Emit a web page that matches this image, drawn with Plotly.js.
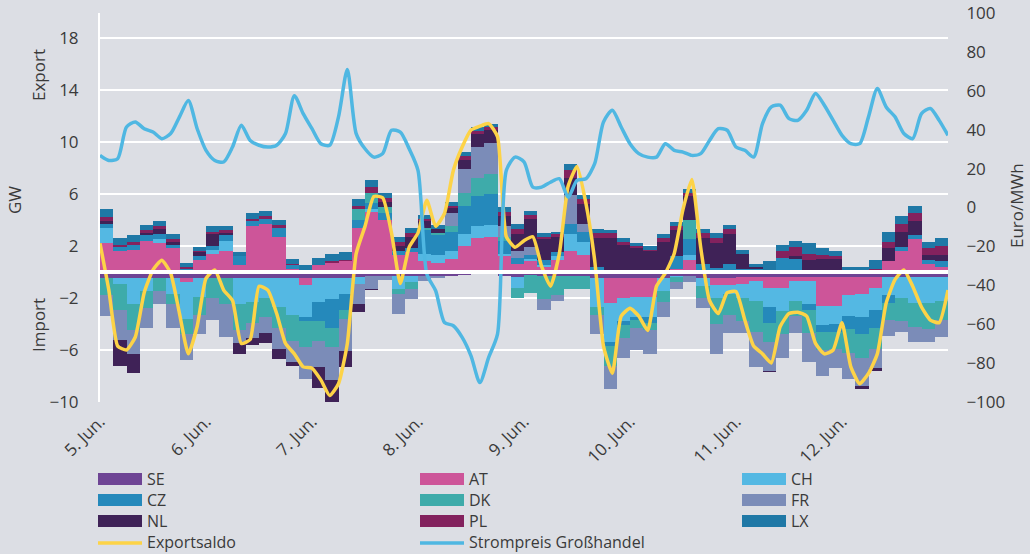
<!DOCTYPE html>
<html><head><meta charset="utf-8">
<script src="https://cdn.plot.ly/plotly-3.0.1.min.js"></script>
<style>html,body{margin:0;padding:0;background:#dcdee4;}#chart{width:1030px;height:554px;}</style>
</head><body><div id="chart"></div>
<script>
// ---- data (3-hourly balances in GW, positive = export, negative = import) ----
const countries = ['SE','AT','CH','CZ','DK','FR','NL','PL','LX'];
const SE = [-0.5,-0.5,-0.5,-0.5,-0.5,-0.5,-0.5,-0.5, -0.5,-0.5,-0.5,-0.5,-0.5,-0.5,-0.5,-0.5,
            -0.5,-0.5,-0.5,-0.4,-0.3,-0.3,-0.3,-0.3, -0.3,-0.3,-0.3,-0.2,-0.1,-0.1,-0.3,-0.4,
            -0.2,-0.3,-0.3,-0.3,-0.3,-0.5,-0.5,-0.5, -0.5,-0.5,-0.5,-0.3,-0.3,-0.5,-0.5,-0.5,
            -0.4,-0.4,-0.4,-0.4,-0.4,-0.4,-0.4,-0.4, -0.4,-0.4,-0.4,-0.4,-0.4,-0.4,-0.4,-0.4];
const AT = [2.2,1.6,1.7,2.4,2.2,1.8,-0.3,0.9, 1.4,1.6,0.5,3.5,3.7,2.7,0.2,-0.5,
            0.5,0.7,0.8,3.4,4.6,4.0,1.3,1.5, 0.8,0.7,1.0,2.0,2.6,2.7,1.2,0.6,
            0.8,0.4,0.9,1.6,1.3,0.1,-1.9,-1.5, -1.4,-1.4,0,0.2,0.9,0,-0.5,-0.5,
            -0.5,-0.3,-0.8,-0.8,-0.3,-0.3,-2.2,-2.2, -1.4,-1.3,-0.8,0.8,1.6,2.5,0.6,0.4];
const CH = [1.2,-0.4,-2.0,-1.0,0.3,-1.2,-2.8,-1.4, 0.3,0.8,-2.0,-1.8,-1.5,-2.2,-2.8,-2.5,
            -1.8,-1.6,-1.2,-0.5,0.2,0,-1.0,-0.5, 0.6,0.6,0.6,0.9,0.9,0.9,0.2,-0.8,
            0.2,0.1,0.3,1.3,1.0,-2.2,-3.0,-1.8, -1.6,-1.6,-1.0,-0.1,0.4,-0.6,-1.0,-0.7,
            -1.1,-1.5,-1.5,-1.8,-1.5,-1.8,-1.5,-1.4, -1.6,-1.8,-1.7,-1.4,-1.6,-2.0,-2.0,-1.8];
const CZ = [0.3,0.3,0.4,0.4,0.4,0.3,0.2,0.3, 0.3,0.4,0.7,0.4,0.4,0.7,0.3,-0.3,
            -1.5,-2.2,-1.2,0.6,0.5,0.5,0.3,0.3, 1.8,1.5,1.5,2.2,2.3,2.4,1.0,0.5,
            0.3,0.4,0.3,0.8,0.8,0.3,-0.3,-0.3, -0.2,-0.4,0.1,1.0,1.2,0.6,0.3,0.6,
            0.2,0.2,-1.2,1.1,1.0,-0.4,-0.5,-0.6, -1.0,-1.3,-1.4,-0.6,0.3,0.3,0.3,0.4];
const DK = [-1.3,-2.0,-2.0,-1.3,-1.0,-0.8,-1.2,-1.4, -1.5,-2.0,-2.0,-1.6,-1.5,-1.6,-2.0,-2.0,
            -1.5,-1.5,-0.7,0.8,0.8,0.5,-0.4,-0.5, 0.2,0.2,0.4,1.0,1.4,1.5,0.3,-0.8,
            -1.4,-1.8,-1.5,-1.0,-1.0,-0.6,-1.5,-1.0, -0.6,-0.6,-0.8,-0.4,1.5,-0.9,-2.0,-1.6,
            -1.8,-2.4,-1.5,-1.8,-1.2,-1.8,-1.4,-1.3, -1.8,-1.8,-1.6,-1.3,-1.8,-1.8,-2.0,-1.5];
const FR = [-1.6,-2.3,-1.8,-1.5,-1.0,-1.8,-2.0,-1.5, -1.7,-2.5,-1.0,-1.2,-1.2,-1.6,-1.6,-2.4,
            -2.0,-2.5,-2.5,-1.6,-1.0,-0.3,-1.5,-0.8, -0.4,-0.2,1.0,1.8,2.4,2.4,0.8,0.5,
            0.6,-0.8,-0.4,2.2,0.6,-1.5,-1.8,-1.5, -1.7,-1.8,-1.2,-0.5,-0.5,-0.8,-2.3,-1.4,
            -0.9,-2.7,-2.2,-1.8,-1.3,-2.2,-2.0,-1.5, -2.0,-2.2,-1.5,-1.2,-0.8,-1.2,-1.0,-1.3];
const NL = [0.2,-2.0,-1.5,0.2,0.4,0.2,0,0.3, 0.9,0.2,-0.8,-0.5,-0.8,-0.8,-0.3,0,
            -1.6,-1.8,-1.2,-0.6,-0.1,0.4,0.4,0.9, 0.5,0.3,0.4,0.7,1.0,1.0,0.8,1.3,
            2.2,1.6,1.2,1.3,1.5,2.2,2.6,2.1, 1.8,1.6,2.2,2.0,1.8,2.0,1.9,2.3,
            1.2,0.2,-0.1,0,0.2,0.9,1.0,1.0, 0,-0.2,-0.2,1.0,1.2,1.1,0.4,0.5];
const PL = [0.3,0.2,0.2,0.2,0.2,0.2,0.2,0.1, 0.2,0.2,0,0.2,0.2,0.2,0.1,0,
            0,0.1,0.1,0.3,0.4,0.3,0.3,0.3, 0.2,0,0.2,0.3,0.2,0.2,0.3,0.4,
            0.3,0.2,0.2,0.6,0.4,0.4,0.4,0.2, 0.2,0.1,0.3,0.3,0.3,0.4,0.4,0.4,
            0,0,0.1,0.5,0.7,0.5,0.3,0.2, 0,0,0.2,0.5,0.6,0.6,0.5,0.7];
const LX = [0.6,0.5,0.5,0.4,0.4,0.4,0.3,0.3, 0.4,0.3,0.3,0.4,0.4,0.4,0.4,0.5,
            0.6,0.6,0.6,0.5,0.6,0.4,0.4,0.4, 0.3,0.3,0.3,0.3,0.3,0.3,0.4,0.4,
            0.3,0.3,0.2,0.5,0.3,0.3,0.2,0.3, 0.2,0.3,0.3,0.3,0.3,0.3,0.4,0.3,
            0.3,0.2,0.7,0.5,0.5,0.8,0.5,0.4, 0.4,0.4,0.7,0.8,0.6,0.6,0.5,0.6];
// 2-hourly lines
const exportsaldo = [2.2,-1.4,-5.7,-6.0,-5.0,-1.6,0.15,0.9,-0.1,-3.2,-6.3,-4.2,
  -0.5,0.15,-1.4,-2.2,-5.5,-5.2,-1.1,-1.4,-3.2,-5.5,-6.3,-7.3,
  -7.4,
  -8.3,-9.5,-8.6,-5.5,1.4,3.5,5.8,5.7,3.0,-0.9,1.9,
  3.0,5.5,3.5,4.5,7.8,9.6,10.9,11.2,11.4,10.4,2.7,1.9,
  2.4,
  2.7,0.4,-1.1,1.4,6.6,8.1,5.3,0.9,-5.7,-7.8,-3.4,
  -2.8,-3.4,-4.5,-1.1,-0.1,1.4,4.8,7.1,1.9,-2.2,-3.2,-1.6,
  -1.5,
  -3.7,-5.7,-6.3,-7.0,-4.2,-3.2,-3.1,-3.4,-5.5,-6.3,-6.0,
  -3.9,-7.3,-8.6,-7.8,-6.3,-2.4,-0.6,0.15,-1.1,-2.7,-3.7,-3.9,
  -1.4];
const strompreis = [26.8,24.2,25.1,41.4,44,40.5,38.8,35.4,38,46.6,55,40.5,
  29.4,24.2,23.4,31.1,42.3,34.5,32,31.1,32,38,57.5,48.3,
  40.5,
  32.8,32,46.6,71,38,30.2,25.9,27.7,39.7,38.8,30.2,
  19.1,-34.2,-42.8,-59.1,-60.8,-66.8,-76.3,-90,-77.1,-65.1,19.1,25.9,
  23.5,
  10.5,10.5,13,14.8,5.3,13.9,14.8,22.5,44,50,41.4,
  32.8,27.7,25.9,25.9,32.8,29.4,28.5,26.8,27.7,34.5,40.5,39.7,
  31.1,
  29.4,25.9,43.1,51.7,52.6,45.7,44.8,50,58.6,52.6,44.8,
  37.1,32.8,32.8,46.6,61.2,51.7,46.6,38,35.4,48.3,50.9,44.8,
  37.1];
const dayLabels = ['5. Jun.','6. Jun.','7. Jun.','8. Jun.','9. Jun.','10. Jun.','11. Jun.','12. Jun.'];
const yTicks = [-10,-6,-2,2,6,10,14,18];
const barStep = 3, lineStep = 2;

// ---- styling ----
const series = {SE,AT,CH,CZ,DK,FR,NL,PL,LX};
const colors = {SE:'#6e4494',AT:'#cd5599',CH:'#54b8e3',CZ:'#2589bb',DK:'#3eabaa',
                FR:'#7b8cb8',NL:'#3f2257',PL:'#83225e',LX:'#1f78a6'};
const yellow = '#fdd347', blue = '#4fb7e2', txt = '#3a3a3a';
const FONT = 'Open Sans, sans-serif';

const traces = countries.map(c => ({
  type:'bar', name:c, x: series[c].map((v,i)=> i*barStep + barStep/2),
  y: series[c], width: barStep, marker:{color:colors[c], line:{width:0}},
  showlegend:false, hoverinfo:'skip'
}));
traces.push({type:'scatter', mode:'lines', name:'Strompreis Großhandel', yaxis:'y2',
  x: strompreis.map((v,i)=>i*lineStep), y: strompreis,
  line:{color:blue, width:3.5, shape:'spline', smoothing:0.7}, showlegend:false});
traces.push({type:'scatter', mode:'lines', name:'Exportsaldo',
  x: exportsaldo.map((v,i)=>i*lineStep), y: exportsaldo,
  line:{color:yellow, width:3.5, shape:'spline', smoothing:0.5}, showlegend:false});

const W=1030,H=554,L=100,R=82,T=13,B=152;
const pw=W-L-R, ph=H-T-B;
const px = x => (x-L)/pw, py = y => (H-B-y)/ph;

const shapes = [
  {type:'line', xref:'paper', yref:'y', x0:0, x1:1, y0:0, y1:0, line:{color:'#ffffff', width:4}, layer:'above'}
];
const annotations = [
  {text:'GW', x:px(14), y:py(200), textangle:-90},
  {text:'Export', x:px(38), y:py(75), textangle:-90},
  {text:'Import', x:px(38), y:py(325), textangle:-90},
  {text:'Euro/MWh', x:px(1016), y:py(206), textangle:-90}
].map(a => Object.assign({xref:'paper', yref:'paper', showarrow:false, xanchor:'center', yanchor:'middle',
  font:{family:FONT, size:17, color:txt}}, a));

// custom legend
const legendItems = [
  ['SE',0,0,'bar'],['AT',1,0,'bar'],['CH',2,0,'bar'],
  ['CZ',0,1,'bar'],['DK',1,1,'bar'],['FR',2,1,'bar'],
  ['NL',0,2,'bar'],['PL',1,2,'bar'],['LX',2,2,'bar'],
  ['Exportsaldo',0,3,'line'],['Strompreis Großhandel',1,3,'line']
];
const colX = [98,420,742], rowY = [479,500,521,542];
legendItems.forEach(([name,c,r,kind]) => {
  const x0 = colX[c], yc = rowY[r];
  if (kind==='bar') {
    shapes.push({type:'rect', xref:'paper', yref:'paper', x0:px(x0), x1:px(x0+44), y0:py(yc+6), y1:py(yc-6),
      fillcolor:colors[name], line:{width:0}});
  } else {
    shapes.push({type:'line', xref:'paper', yref:'paper', x0:px(x0), x1:px(x0+44), y0:py(yc+1), y1:py(yc+1),
      line:{color: name==='Exportsaldo'?yellow:blue, width:3.5}});
  }
  annotations.push({text:name, xref:'paper', yref:'paper', x:px(x0+47), y:py(yc), xanchor:'left', yanchor:'middle',
    showarrow:false, font:{family:FONT, size:16, color:txt}});
});

const layout = {
  width:W, height:H, margin:{l:L, r:R, t:T, b:B},
  paper_bgcolor:'#dcdee4', plot_bgcolor:'#dcdee4',
  barmode:'relative', bargap:0, showlegend:false,
  font:{family:FONT, size:17, color:txt},
  xaxis:{range:[0,192], tickvals: dayLabels.map((d,i)=>i*24), ticktext: dayLabels,
    tickangle:-45, showgrid:false, zeroline:false, showline:false,
    ticks:'outside', ticklen:2, tickcolor:'rgba(0,0,0,0)', tickfont:{size:17, color:txt}},
  yaxis:{range:[-10,19.9], tickvals:yTicks, showgrid:true, gridcolor:'#ffffff', gridwidth:2,
    zeroline:false, showline:true, linecolor:'#ffffff', linewidth:2,
    ticks:'outside', ticklen:16, tickcolor:'rgba(0,0,0,0)', tickfont:{size:17, color:txt}},
  yaxis2:{overlaying:'y', side:'right', range:[-100,100], dtick:20, showgrid:false, zeroline:false,
    showline:false, ticks:'outside', ticklen:14, tickcolor:'rgba(0,0,0,0)', tickfont:{size:17, color:txt}},
  shapes, annotations
};
Plotly.newPlot('chart', traces, layout, {displayModeBar:false, staticPlot:true});
</script></body></html>
